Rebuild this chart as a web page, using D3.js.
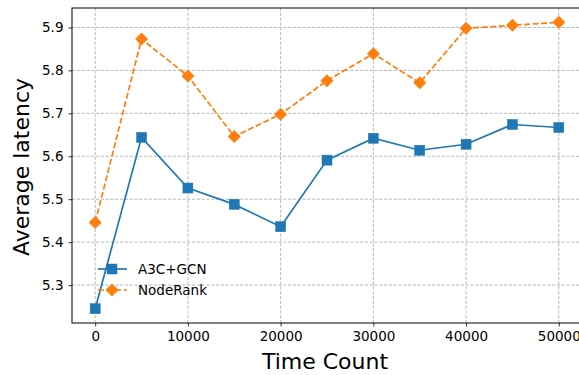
<!DOCTYPE html>
<html>
<head>
<meta charset="utf-8">
<script src="https://cdn.jsdelivr.net/npm/d3@7"></script>
<style>
	body { margin: 0; background: #fff; }
	svg { display: block; font-family: 'DejaVu Sans', sans-serif; }
</style>
</head>
<body>
<svg id="chart" width="579" height="375"></svg>
<script>
// data
const timeCounts = [0, 5000, 10000, 15000, 20000, 25000, 30000, 35000, 40000, 45000, 50000];
const a3cGcn = [5.245, 5.644, 5.526, 5.488, 5.436, 5.591, 5.642, 5.614, 5.628, 5.674, 5.667];
const nodeRank = [5.446, 5.873, 5.787, 5.646, 5.698, 5.776, 5.839, 5.771, 5.898, 5.905, 5.912];
const xTicks = [0, 10000, 20000, 30000, 40000, 50000];
const yTicks = [5.3, 5.4, 5.5, 5.6, 5.7, 5.8, 5.9];
const seriesNames = ['A3C+GCN', 'NodeRank'];

const svg = d3.select('#chart');
const [plotLeft, plotRight, plotTop, plotBottom] = [72, 582, 8, 323];

const x = d3.scaleLinear([-2500, 52500], [plotLeft, plotRight]);
const y = d3.scaleLinear([5.2117, 5.9453], [plotBottom, plotTop]);

const series = [
	{ name: seriesNames[0], values: a3cGcn, color: '#1f77b4', dash: null, marker: 'square' },
	{ name: seriesNames[1], values: nodeRank, color: '#ff7f0e', dash: '6,2.5', marker: 'diamond' }
];

// 격자
const grid = svg.append('g').attr('stroke', '#b0b0b0').attr('stroke-width', 0.9).attr('stroke-dasharray', '3.2,1.6');
grid.selectAll('.gx').data(xTicks).join('line')
	.attr('x1', d => x(d)).attr('x2', d => x(d)).attr('y1', plotTop).attr('y2', plotBottom);
grid.selectAll('.gy').data(yTicks).join('line')
	.attr('x1', plotLeft).attr('x2', plotRight).attr('y1', d => y(d)).attr('y2', d => y(d));

// axes
const xAxis = svg.append('g')
	.attr('transform', `translate(0,${plotBottom})`)
	.call(d3.axisBottom(x).tickValues(xTicks).tickFormat(d3.format('d')).tickSize(3.5).tickPadding(5).tickSizeOuter(0));
const yAxis = svg.append('g')
	.attr('transform', `translate(${plotLeft},0)`)
	.call(d3.axisLeft(y).tickValues(yTicks).tickFormat(d3.format('.1f')).tickSize(3.5).tickPadding(5).tickSizeOuter(0));
[xAxis, yAxis].forEach(g => {
	g.select('.domain').remove();
	g.selectAll('.tick text').attr('font-size', 13.5).attr('fill', '#000').attr('font-family', 'DejaVu Sans, sans-serif');
	g.selectAll('.tick line').attr('stroke', '#000').attr('stroke-width', 0.8);
});

svg.append('rect')
	.attr('x', plotLeft).attr('y', plotTop)
	.attr('width', plotRight - plotLeft).attr('height', plotBottom - plotTop)
	.attr('fill', 'none').attr('stroke', '#000').attr('stroke-width', 1);

const line = d3.line().x((d, i) => x(timeCounts[i])).y(d => y(d));

function drawMarker(g, kind, cx, cy, color) {
	if (kind === 'square') {
		g.append('rect').attr('x', cx - 5).attr('y', cy - 5).attr('width', 10).attr('height', 10)
			.attr('fill', color).attr('stroke', color).attr('stroke-width', 0.5);
	} else {
		g.append('path').attr('d', `M${cx},${cy - 6.5}L${cx + 6.5},${cy}L${cx},${cy + 6.5}L${cx - 6.5},${cy}Z`)
			.attr('fill', color);
	}
}

// 시리즈 그리기
series.forEach(s => {
	const g = svg.append('g');
	g.append('path')
		.attr('d', line(s.values))
		.attr('fill', 'none')
		.attr('stroke', s.color)
		.attr('stroke-width', 1.7)
		.attr('stroke-dasharray', s.dash);
	s.values.forEach((v, i) => drawMarker(g, s.marker, x(timeCounts[i]), y(v), s.color));
});

// legend
const legend = svg.append('g').attr('transform', 'translate(98,269)');
series.forEach((s, i) => {
	const row = legend.append('g').attr('transform', `translate(0,${i * 21})`);
	row.append('line').attr('x1', 0).attr('x2', 29).attr('y1', 0).attr('y2', 0)
		.attr('stroke', s.color).attr('stroke-width', 1.7).attr('stroke-dasharray', s.dash);
	drawMarker(row, s.marker, 14, 0, s.color);
	row.append('text').attr('x', 40).attr('y', 0).attr('dy', '0.35em')
		.attr('font-size', 13.5).text(s.name);
});

// axis titles
svg.append('text')
	.attr('x', 325).attr('y', 369)
	.attr('text-anchor', 'middle').attr('font-size', 22)
	.text('Time Count');
svg.append('text')
	.attr('transform', 'translate(29,167) rotate(-90)')
	.attr('text-anchor', 'middle').attr('font-size', 22)
	.text('Average latency');
</script>
</body>
</html>
